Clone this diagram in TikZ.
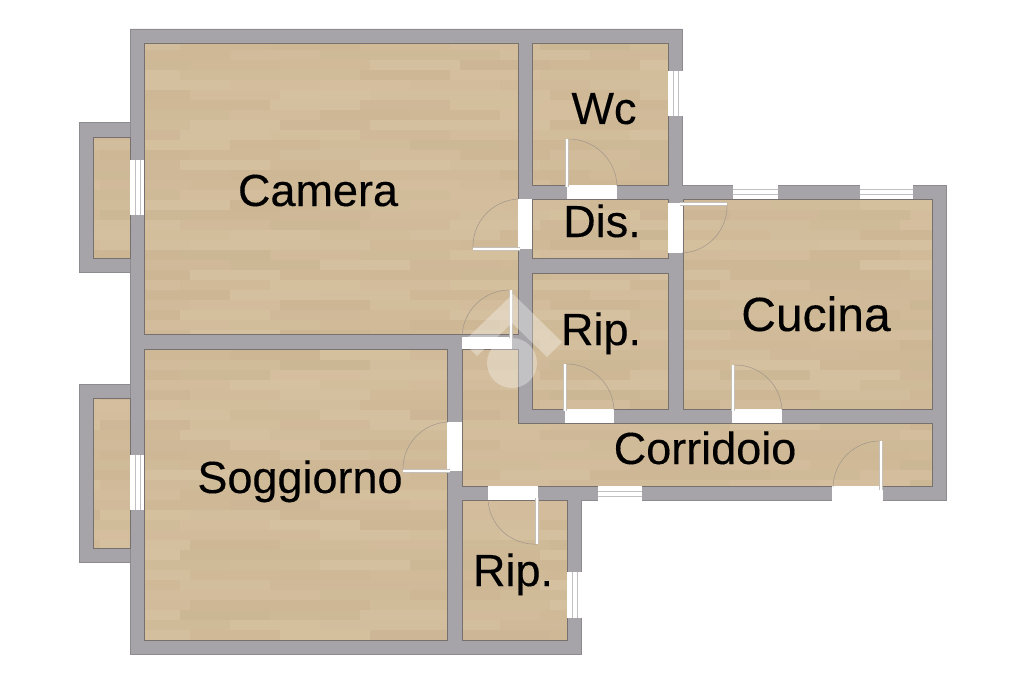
\documentclass[tikz,border=0pt]{standalone}
\usepackage{fontspec}
\setmainfont{Liberation Sans}
\newfontfamily\roomfont{Liberation Sans}[FakeBold=.25]
\definecolor{wallgrey}{RGB}{166, 164, 168}
\definecolor{walledge}{RGB}{118, 112, 110}
\definecolor{woodlight}{RGB}{215, 194, 161}
\definecolor{wooddark}{RGB}{202, 180, 146}
\definecolor{swinggrey}{RGB}{160, 150, 140}
\usetikzlibrary{calc}
\newcommand{\floorrects}{
    (144, 43) rectangle (518, 334)
    (532, 43) rectangle (668, 185)
    (532, 199) rectangle (668, 258)
    (532, 273) rectangle (668, 409)
    (683, 199) rectangle (932, 409)
    (144, 349) rectangle (447, 640)
    (462, 500) rectangle (567, 640)
    (93, 137) rectangle (130, 258)
    (93, 398) rectangle (130, 548)
    (462, 349) -- (518, 349) -- (518, 423) -- (932, 423) -- (932, 486)
        -- (462, 486) -- cycle
}
\tikzset{
    wall/.style={fill=wallgrey, draw=wallgrey!85!black, line width=.7pt},
    opening/.style={fill=white, draw=none},
    leaf/.style={draw=swinggrey!60, double=white, double distance=2.6pt,
        line width=.4pt},
    swing/.style={draw=swinggrey, line width=.5pt},
    roomlabel/.style={font=\roomfont\fontsize{45}{45}\selectfont, text=black,
        inner sep=0pt, anchor=base},
}

\begin{document}
\begin{tikzpicture}[x=1pt, y=-1pt]
    \useasboundingbox (0, 0) rectangle (1024, 682);
    \fill[white] (0, 0) rectangle (1024, 682);

    \draw[wall] (130, 29) -- (682, 29) -- (682, 185) -- (946, 185)
        -- (946, 500) -- (581, 500) -- (581, 654) -- (130, 654) -- cycle;
    \draw[wall] (79, 122) rectangle (130, 272);
    \draw[wall] (79, 384) rectangle (130, 562);

    % Wood floor
    \pgfmathsetseed{41}
    \begin{scope}
        \clip \floorrects;
        \foreach \row in {0,...,61}{
            \foreach \col in {0,...,11}{
                \pgfmathsetmacro{\tone}{int(random(15,85))}
                \pgfmathsetmacro{\xa}{90 + 90*\col - 40*mod(\row,3)}
                \fill[woodlight!\tone!wooddark] (\xa, 40 + 10*\row)
                    rectangle (\xa + 91, 51 + 10*\row);
            }
        }
    \end{scope}
    \draw[walledge, line width=.9pt] \floorrects;

    % Door openings
    \foreach \xa/\ya/\xb/\yb in {567/185/617/199, 518/199/532/249,
        668/203/683/253, 462/337/512/349, 565/409/614/423, 732/409/782/423,
        832/486/883/501, 447/422/462/471, 488/486/538/500}{
        \fill[opening] (\xa, \ya) rectangle (\xb, \yb);
    }

    % Windows, lines across the wall
    \foreach \xa/\ya/\xb/\yb in {733/184/778/199, 860/184/913/199,
        598/486/642/501}{
        \fill[opening] (\xa, \ya) rectangle (\xb, \yb);
        \draw[wallgrey!70] (\xa, \ya + 5) -- (\xb, \ya + 5);
        \draw[wallgrey!70] (\xa, \ya + 10) -- (\xb, \ya + 10);
    }
    \foreach \xa/\ya/\xb/\yb in {668/71/683/116, 130/160/144/215,
        130/455/144/510, 567/572/582/618}{
        \fill[opening] (\xa, \ya) rectangle (\xb, \yb);
        \draw[wallgrey!70] (\xa + 5, \ya) -- (\xa + 5, \yb);
        \draw[wallgrey!70] (\xa + 10, \ya) -- (\xa + 10, \yb);
    }

    % Door leaves and their swing
    \foreach \xa/\ya/\xb/\yb in {567/139/617/186, 473/249/518/199,
        727/204/682/253, 462/337/511/290, 565/364/614/410, 733/365/782/410,
        833/487/881/441, 403/471/448/422, 537/544/488/500}{
        \draw[swing] (\xa, \ya) to[bend left=45] (\xb, \yb);
    }
    \foreach \xa/\ya/\xb/\yb in {567/139/567/187, 473/249/520/249,
        727/204/680/204, 511/290/511/338, 565/364/565/411, 733/365/733/411,
        881/441/881/490, 403/471/450/471, 537/544/537/498}{
        \draw[leaf] (\xa, \ya) -- (\xb, \yb);
    }

    % Logo over the plan
    \fill[white, opacity=.32] (513, 294) -- (562, 342) -- (547, 357)
        -- (512, 323) -- (477, 356) -- (463, 342) -- cycle;
    \fill[white, opacity=.32] (512, 363) circle (25);

    \node[roomlabel] (camera) at (318, 206) {Camera};
    \node[roomlabel] (wc) at (604, 124) {Wc};
    \node[roomlabel] (dis) at (602, 237) {Dis.};
    \node[roomlabel] (ripone) at (601, 345) {Rip.};
    \node[roomlabel, font=\roomfont\fontsize{48}{48}\selectfont] (cucina)
        at (816, 331) {Cucina};
    \node[roomlabel] (corridoio) at (705, 464) {Corridoio};
    \node[roomlabel] (soggiorno) at (300, 493) {Soggiorno};
    \node[roomlabel] (riptwo) at (513, 586) {Rip.};
\end{tikzpicture}
\end{document}
